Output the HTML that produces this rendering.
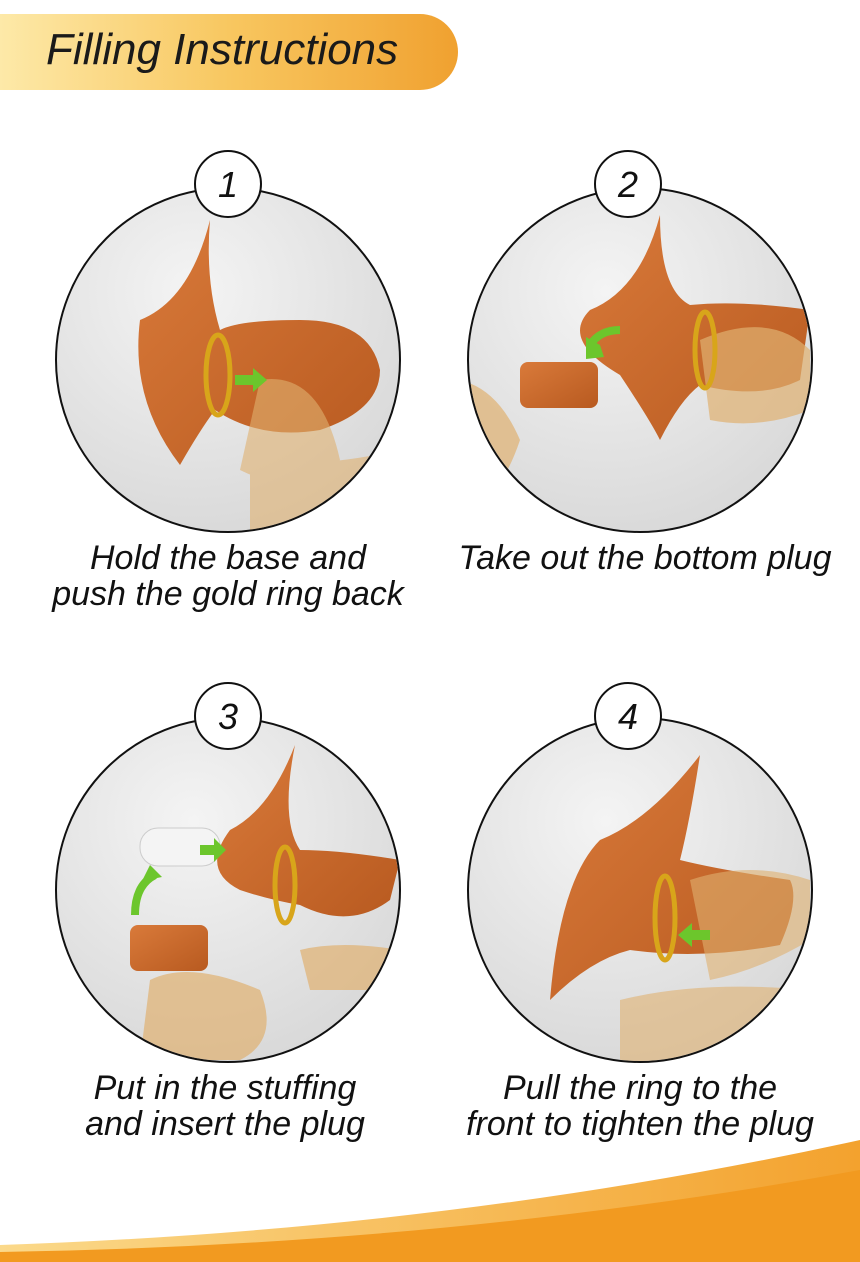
<!DOCTYPE html>
<html><head><style>
body{margin:0;width:860px;height:1262px;background:#fff;position:relative;overflow:hidden;font-family:"Liberation Sans",sans-serif}
.cap{position:absolute;font-style:italic;font-size:34px;color:#111;text-align:center;line-height:36px;white-space:nowrap}
</style></head><body>
<svg width="860" height="1262" style="position:absolute;left:0;top:0">
<defs>
<linearGradient id="hb" x1="0" x2="1"><stop offset="0" stop-color="#fde9a8"/><stop offset="0.5" stop-color="#f8c760"/><stop offset="1" stop-color="#f0a130"/></linearGradient>
<radialGradient id="bg" cx="0.4" cy="0.3" r="0.8"><stop offset="0" stop-color="#f4f4f4"/><stop offset="1" stop-color="#d6d6d6"/></radialGradient>
<linearGradient id="or" x1="0" x2="1" y1="0" y2="1"><stop offset="0" stop-color="#d97a3a"/><stop offset="1" stop-color="#b85a20"/></linearGradient>
<linearGradient id="sw" x1="0" x2="1"><stop offset="0" stop-color="#fbd98a"/><stop offset="1" stop-color="#f3a22e"/></linearGradient>
<clipPath id="c1"><circle cx="228" cy="360" r="171"/></clipPath>
<clipPath id="c2"><circle cx="640" cy="360" r="171"/></clipPath>
<clipPath id="c3"><circle cx="228" cy="890" r="171"/></clipPath>
<clipPath id="c4"><circle cx="640" cy="890" r="171"/></clipPath>
</defs>
<path d="M0 14 H420 A38 38 0 0 1 420 90 H0 Z" fill="url(#hb)"/>
<text x="46" y="64" font-size="44" font-style="italic" fill="#1a1a1a" font-family="Liberation Sans">Filling Instructions</text>
<g stroke="#111" stroke-width="2">
<circle cx="228" cy="360" r="172" fill="url(#bg)"/>
<circle cx="640" cy="360" r="172" fill="url(#bg)"/>
<circle cx="228" cy="890" r="172" fill="url(#bg)"/>
<circle cx="640" cy="890" r="172" fill="url(#bg)"/>
</g>
<g clip-path="url(#c1)">
<path fill="url(#or)" d="M210 220 Q190 300 140 320 Q130 400 180 465 Q200 430 215 410 Q260 440 320 430 Q380 410 380 370 Q370 320 300 320 Q240 320 220 330 Q205 280 210 220Z"/>
<path fill="#e0b070" opacity="0.6" d="M260 380 q60 -10 80 80 q-40 40 -100 10z M250 460 q60 10 150 -10 v120 h-150z"/>
<ellipse cx="218" cy="375" rx="12" ry="40" fill="none" stroke="#d8a51a" stroke-width="5"/>
<path fill="#6cc62c" d="M235 375 h18 v-7 l14 12 l-14 12 v-7 h-18z"/>
</g>
<g clip-path="url(#c2)">
<path fill="url(#or)" d="M660 215 Q640 290 590 310 Q560 340 620 375 Q650 420 660 440 Q680 400 700 385 Q760 400 800 380 L810 310 Q740 300 690 305 Q660 290 660 215Z"/>
<rect fill="url(#or)" x="520" y="362" width="78" height="46" rx="8"/>
<path fill="#e0b070" opacity="0.7" d="M430 380 q60 -10 90 60 q-20 60 -60 80 h-40z M700 340 q70 -30 110 10 v60 q-50 20 -100 10z"/>
<ellipse cx="705" cy="350" rx="10" ry="38" fill="none" stroke="#d8a51a" stroke-width="5"/>
<path d="M620 330 q-20 0 -30 15" stroke="#6cc62c" stroke-width="8" fill="none"/><path fill="#6cc62c" d="M600 345 l-14 -8 l0 22 l18 -2z"/>
</g>
<g clip-path="url(#c3)">
<path fill="url(#or)" d="M295 745 Q270 810 230 830 Q200 870 240 890 Q270 900 300 905 Q350 930 390 900 L400 860 Q340 850 300 850 Q280 820 295 745Z"/>
<rect fill="url(#or)" x="130" y="925" width="78" height="46" rx="8"/>
<rect x="140" y="828" width="80" height="38" rx="18" fill="#f4f4f4" stroke="#ccc"/>
<path fill="#e0b070" opacity="0.7" d="M150 980 q40 -20 110 10 q20 50 -20 70 h-100z M300 950 q40 -10 100 0 v40 h-90z"/>
<ellipse cx="285" cy="885" rx="10" ry="38" fill="none" stroke="#d8a51a" stroke-width="5"/>
<path fill="#6cc62c" d="M200 845 h14 v-7 l12 12 l-12 12 v-7 h-14z"/>
<path d="M135 915 q0 -30 20 -40" stroke="#6cc62c" stroke-width="8" fill="none"/><path fill="#6cc62c" d="M150 865 l12 12 l-20 4z"/>
</g>
<g clip-path="url(#c4)">
<path fill="url(#or)" d="M700 755 Q650 820 600 840 Q560 880 550 1000 Q590 960 630 950 Q700 960 780 945 Q800 900 790 880 Q720 870 680 860 Q690 820 700 755Z"/>
<path fill="#e0b070" opacity="0.6" d="M690 880 q60 -20 120 0 v60 q-50 30 -100 40z M620 1000 q80 -20 190 -10 v80 h-190z"/>
<ellipse cx="665" cy="918" rx="10" ry="42" fill="none" stroke="#d8a51a" stroke-width="5"/>
<path fill="#6cc62c" d="M710 940 h-18 v7 l-14 -12 l14 -12 v7 h18z"/>
</g>
<g stroke="#111" stroke-width="2" fill="#fff">
<circle cx="228" cy="184" r="33"/><circle cx="628" cy="184" r="33"/>
<circle cx="228" cy="716" r="33"/><circle cx="628" cy="716" r="33"/>
</g>
<g font-size="36" font-style="italic" text-anchor="middle" fill="#111" font-family="Liberation Sans">
<text x="228" y="197">1</text><text x="628" y="197">2</text><text x="228" y="729">3</text><text x="628" y="729">4</text>
</g>
<path d="M0 1262 L0 1245 Q450 1230 860 1140 L860 1262Z" fill="url(#sw)"/>
<path d="M0 1262 L0 1252 Q450 1245 860 1170 L860 1262Z" fill="#f29a20"/>
</svg>
<div class="cap" style="left:0;width:456px;top:540px">Hold the base and<br>push the gold ring back</div>
<div class="cap" style="left:430px;width:430px;top:540px">Take out the bottom plug</div>
<div class="cap" style="left:0;width:450px;top:1070px">Put in the stuffing<br>and insert the plug</div>
<div class="cap" style="left:420px;width:440px;top:1070px">Pull the ring to the<br>front to tighten the plug</div>
</body></html>
